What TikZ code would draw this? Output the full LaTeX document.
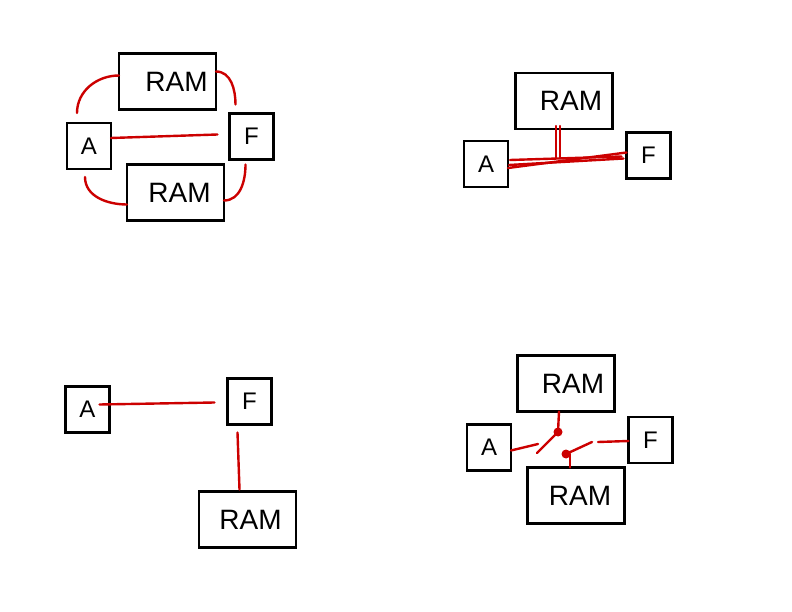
\documentclass[tikz,border=0pt]{standalone}
\usepackage{fontspec}
\setmainfont{Liberation Sans}
\usetikzlibrary{calc}
\definecolor{wire}{RGB}{204,0,0}
\tikzset{
  box/.style={draw=black, line width=2.6pt, rectangle, inner sep=0pt, outer sep=0pt,
              font=\fontsize{28}{32}\selectfont},
  ram/.style={box, minimum width=97pt, minimum height=56pt},
  small/.style={box, minimum width=44pt, minimum height=46pt, font=\fontsize{24}{28}\selectfont},
  link/.style={draw=wire, line width=2.4pt, line cap=round},
  joint/.style={circle, fill=wire, inner sep=0pt, minimum size=9pt},
}
\begin{document}
\begin{tikzpicture}[x=1pt,y=-1pt]
\useasboundingbox (0,0) rectangle (792,612);
\fill[white] (0,0) rectangle (792,612);

% ---- ring: A and F joined directly and through two RAMs ----
\node[ram]   (r1a) at (167.5,81.5) {\hspace*{18pt}RAM};
\node[small] (a1)  at (89,146) {A};
\node[small] (f1)  at (251.5,136.5) {F};
\node[ram]   (r1b) at (175.5,192.5) {\hspace*{8pt}RAM};
\draw[link] ([yshift=8pt]a1.east) -- ([xshift=-12pt,yshift=2pt]f1.west);
\draw[link] ([yshift=6pt]r1a.west) to[out=180,in=90] ([xshift=10pt,yshift=10pt]a1.north west);
\draw[link] ([yshift=10pt]r1a.east) to[out=0,in=90] ([xshift=6pt,yshift=9pt]f1.north west);
\draw[link] ([xshift=18pt,yshift=-8pt]a1.south west) to[out=270,in=180] ([yshift=-12pt]r1b.west);
\draw[link] ([xshift=-28pt,yshift=-5pt]f1.south east) to[out=270,in=0] ([yshift=-8pt]r1b.east);

% ---- shared bus: RAM tapped onto the A--F line ----
\node[ram]   (r2)  at (564,101) {\hspace*{14pt}RAM};
\node[small] (a2)  at (486,164) {A};
\node[small] (f2)  at (648.5,155.5) {F};
\draw[link] ([xshift=-8pt,yshift=3pt]r2.south) -- ++(0,32);
\draw[link] ([xshift=-4pt,yshift=3pt]r2.south) -- ++(0,32);
\draw[link] ([yshift=-4pt]a2.east) -- ([yshift=3pt]f2.west);
\draw[link] ([xshift=2pt,yshift=4pt]a2.east) -- ([xshift=-5pt,yshift=-1pt]f2.west);
\draw[link] ([xshift=1pt,yshift=-1pt]a2.east) -- ([xshift=-3pt,yshift=-3pt]f2.west);

% ---- chain: A to F, F to RAM ----
\node[small] (a3)  at (87.5,409.5) {A};
\node[small] (f3)  at (249.5,401.5) {F};
\node[ram]   (r3)  at (247.5,519.5) {\hspace*{6pt}RAM};
\draw[link] ([xshift=-10pt,yshift=5pt]a3.east) -- ([xshift=-13pt,yshift=-1pt]f3.west);
\draw[link] ([xshift=-12pt,yshift=-8pt]f3.south) -- ([xshift=-8pt,yshift=2pt]r3.north);

% ---- switched: each RAM reached through its own switch ----
\node[ram]   (r4a) at (566,383.5) {\hspace*{14pt}RAM};
\node[small] (a4)  at (489,447.5) {A};
\node[small] (f4)  at (650.5,440) {F};
\node[ram]   (r4b) at (576,495.5) {\hspace*{8pt}RAM};
\node[joint] (s1)  at (558,432) {};
\node[joint] (s2)  at (566,454) {};
\coordinate (p1) at (538,444);
\coordinate (q1) at (537,453);
\coordinate (p2) at (592,442);
\coordinate (q2) at (598,442);
\draw[link] ([yshift=-3pt]a4.east) -- (p1);
\draw[link] (q1) -- (s1.center);
\draw[link] ([xshift=-7pt]r4a.south) -- (s1.center);
\draw[link] (p2) -- (s2.center);
\draw[link] (q2) -- ([yshift=-1pt]f4.west);
\draw[link] (s2.center) ++(4,0) -- ([xshift=-6pt]r4b.north);
\end{tikzpicture}
\end{document}
